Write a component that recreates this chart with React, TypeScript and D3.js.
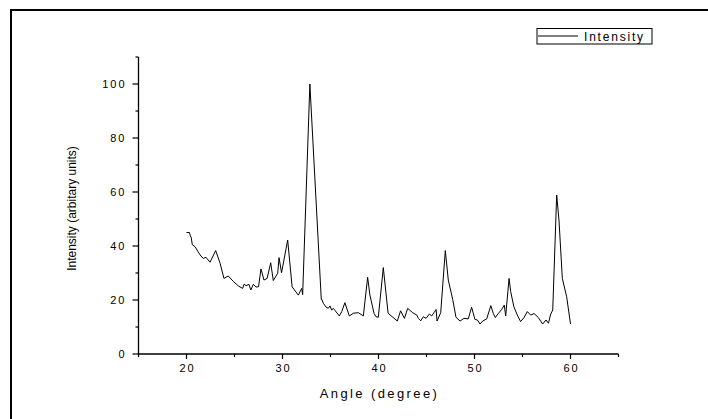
import React from 'react'
import * as d3 from 'd3'

const angles = [
  20.0, 20.3, 20.4, 20.5, 20.6, 20.9, 21.2, 21.5, 21.75, 22.03, 22.45, 23.04, 23.5, 23.9, 24.35, 24.9,
  25.4, 25.85, 26.0, 26.2, 26.5, 26.7, 26.96, 27.24, 27.5, 27.76, 28.07, 28.4, 28.77, 29.04, 29.5, 29.64,
  29.9, 30.54, 31.0, 31.65, 32.0, 32.1, 32.85, 34.04, 34.1, 34.25, 34.53, 34.77, 34.95, 35.12, 35.3, 35.5,
  35.92, 36.17, 36.5, 36.96, 37.38, 37.9, 38.42, 38.87, 39.1, 39.53, 39.74, 39.98, 40.5, 41.0, 41.96, 42.3,
  42.7, 43.04, 43.56, 44.0, 44.15, 44.4, 44.67, 44.95, 45.3, 45.54, 45.78, 46.0, 46.1, 46.48, 46.96, 47.27,
  47.73, 48.07, 48.5, 48.9, 49.35, 49.7, 50.05, 50.3, 50.57, 50.85, 51.27, 51.7, 51.96, 52.17, 52.48, 52.83,
  53.1, 53.25, 53.6, 53.77, 54.1, 54.46, 54.8, 55.16, 55.5, 55.86, 56.2, 56.65, 57.1, 57.45, 57.7, 57.94,
  58.15, 58.56, 58.8, 59.15, 59.6, 60.0
]
const intensity = [
  45.0, 45.0, 43.8, 43.0, 40.5, 39.7, 37.9, 36.3, 35.4, 35.8, 34.0, 38.3, 33.6, 28.0, 28.9, 26.8,
  25.2, 24.3, 25.9, 25.3, 25.8, 23.7, 25.8, 24.8, 24.9, 31.5, 27.4, 28.0, 33.8, 27.2, 29.9, 35.7,
  30.1, 42.2, 24.9, 21.8, 24.3, 22.0, 100.0, 20.2, 20.2, 18.8, 17.4, 16.9, 17.8, 16.3, 16.9, 16.0,
  14.1, 15.7, 19.0, 14.1, 15.1, 15.3, 14.1, 28.4, 21.9, 15.1, 13.8, 13.6, 32.0, 15.1, 12.2, 16.0,
  13.2, 16.9, 15.3, 14.4, 13.2, 12.3, 13.8, 13.2, 14.8, 14.1, 15.3, 16.5, 12.2, 15.3, 38.3, 27.4,
  20.2, 13.6, 12.2, 13.2, 13.0, 17.3, 12.8, 12.6, 11.1, 12.2, 13.0, 17.9, 15.0, 13.5, 15.0, 16.5,
  18.1, 14.1, 28.0, 23.1, 17.5, 14.4, 12.0, 13.5, 15.7, 14.4, 15.0, 13.5, 11.1, 12.6, 11.4, 14.8,
  16.3, 58.9, 49.6, 28.0, 21.2, 11.1
]

const xMajor = [20, 30, 40, 50, 60]
const xMinor = [15, 25, 35, 45, 55, 65]
const yMajor = [0, 20, 40, 60, 80, 100]
const yMinor = [10, 30, 50, 70, 90, 110]

const W = 708
const H = 419
const left = 138.5
const right = 618.5
const top = 57
const bottom = 354
const font = "'Liberation Sans', Arial, sans-serif"

const App = () => {
  const x = d3.scaleLinear().domain([15, 65]).range([left, right])
  const y = d3.scaleLinear().domain([0, 110]).range([bottom, top])
  const points: [number, number][] = angles.map((a, i) => [a, intensity[i]])
  const line = d3.line<[number, number]>().x(d => x(d[0])).y(d => y(d[1]))

  return (
    <svg width={W} height={H} style={{ position: 'absolute', left: 0, top: 0 }}>
      <rect x={0} y={0} width={W} height={H} fill="#fff" />
      {/* frame */}
      <rect x={11} y={10} width={800} height={600} fill="none" stroke="#000" strokeWidth={2} />

      {/* x axis */}
      <line x1={left} y1={bottom} x2={right} y2={bottom} stroke="#000" strokeWidth={1.3} />
      {xMajor.map(v => (
        <g key={v}>
          <line x1={x(v)} y1={bottom} x2={x(v)} y2={bottom + 5} stroke="#000" strokeWidth={1.2} />
          <text x={x(v) + 1} y={bottom + 18} fontSize={11} fontFamily={font} letterSpacing={2}
            textAnchor="middle" fill="#000">{v}</text>
        </g>
      ))}
      {xMinor.map(v => (
        <line key={v} x1={x(v)} y1={bottom} x2={x(v)} y2={bottom + 3} stroke="#000" strokeWidth={1.2} />
      ))}
      <text x={(left + right) / 2 + 1} y={bottom + 44} fontSize={13} fontFamily={font} letterSpacing={2.4}
        textAnchor="middle" fill="#000">Angle (degree)</text>

      {/* y axis */}
      <line x1={left} y1={bottom} x2={left} y2={top} stroke="#000" strokeWidth={1.3} />
      {yMajor.map(v => (
        <g key={v}>
          <line x1={left - 6} y1={y(v)} x2={left} y2={y(v)} stroke="#000" strokeWidth={1.2} />
          <text x={left - 12} y={y(v) + 4} fontSize={11} fontFamily={font} letterSpacing={2}
            textAnchor="end" fill="#000">{v}</text>
        </g>
      ))}
      {yMinor.map(v => (
        <line key={v} x1={left - 3} y1={y(v)} x2={left} y2={y(v)} stroke="#000" strokeWidth={1.2} />
      ))}
      <text transform={`translate(76,${(top + bottom) / 2 + 3}) rotate(-90)`} fontSize={12} fontFamily={font}
        textAnchor="middle" fill="#000">Intensity (arbitary units)</text>

      {/* data */}
      <path d={line(points) || ''} fill="none" stroke="#000" strokeWidth={1} strokeLinejoin="miter" />

      {/* legend */}
      <rect x={537} y={28.5} width={115} height={15.5} fill="#fff" stroke="#000" strokeWidth={1} />
      <line x1={538} y1={36} x2={578} y2={36} stroke="#000" strokeWidth={1} />
      <text x={584} y={40.5} fontSize={12} fontFamily={font} letterSpacing={1.8} fill="#000">Intensity</text>
    </svg>
  )
}

export default App
